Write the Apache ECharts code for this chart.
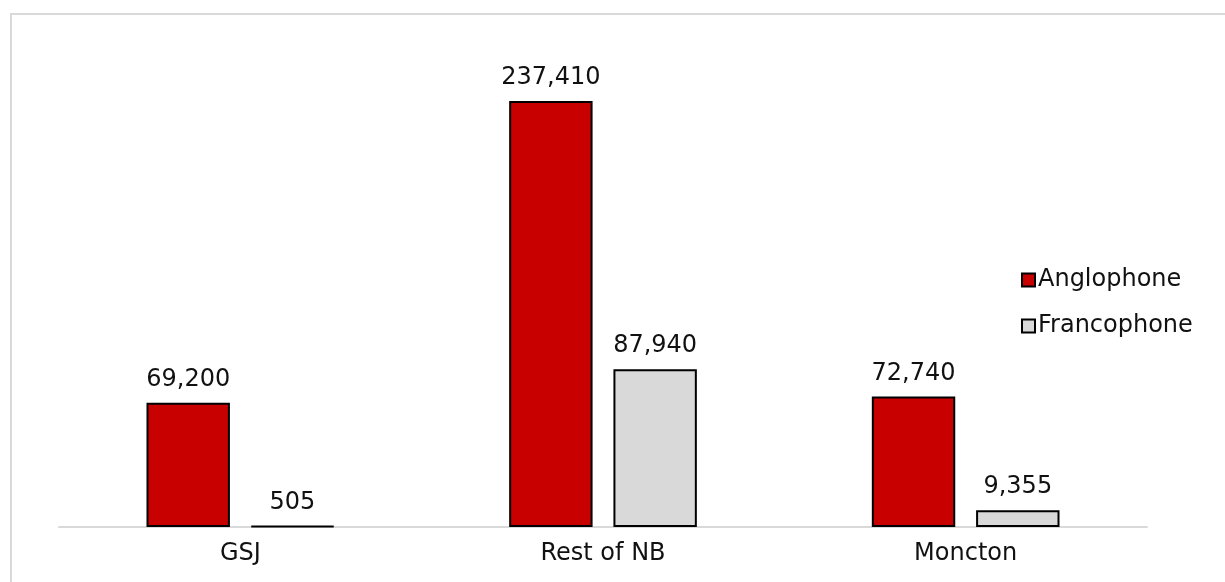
<!DOCTYPE html>
<html>
<head>
<meta charset="utf-8">
<script src="https://cdn.jsdelivr.net/npm/echarts@6/dist/echarts.min.js"></script>
<style>
    html, body{
        margin: 0;
        padding: 0;
        background-color: #fff;
    }
    .chart-frame{
        position: absolute;
        left: 10px;
        top: 13px;
        width: 1300px;
        height: 700px;
        border-top: 2px solid #d9d9d9;
        border-left: 2px solid #d9d9d9;
    }
    #myChart{
        position: absolute;
        left: 0;
        top: 0;
        width: 1225px;
        height: 582px;
    }
</style>
</head>
<body>
<div class="chart-frame"></div>
<div id="myChart"></div>
<script>
// 数据
var categories = ['GSJ', 'Rest of NB', 'Moncton'];
var anglophone = [69200, 237410, 72740];
var francophone = [505, 87940, 9355];

var font = '"DejaVu Sans", sans-serif';

function fmt(p) {
    return p.value.toLocaleString('en-US');
}

var myChart = echarts.init(document.getElementById('myChart'));
myChart.setOption({
    animation: false,
    textStyle: { fontFamily: font },
    legend: {
        orient: 'vertical',
        left: 1016,
        top: 263,
        itemWidth: 13,
        itemHeight: 13,
        itemGap: 22,
        icon: 'rect',
        textStyle: { fontSize: 24, color: '#111', fontFamily: font, padding: [0, 0, 0, -2] },
        data: ['Anglophone', 'Francophone']
    },
    grid: {
        left: 59,
        right: 78,
        top: 78.4,
        bottom: 55
    },
    xAxis: {
        type: 'category',
        data: categories,
        axisLine: { lineStyle: { color: '#d9d9d9', width: 2 } },
        axisTick: { show: false },
        axisLabel: { fontSize: 24, color: '#111', margin: 15, fontFamily: font }
    },
    yAxis: {
        type: 'value',
        min: 0,
        max: 250000,
        show: false,
        splitLine: { show: false }
    },
    series: [
        {
            name: 'Anglophone',
            type: 'bar',
            data: anglophone,
            barWidth: '23%',
            barGap: '25%',
            itemStyle: { color: '#c80000', borderColor: '#000', borderWidth: 2 },
            label: {
                show: true,
                position: 'top',
                distance: 11,
                fontSize: 24,
                color: '#111',
                fontFamily: font,
                formatter: fmt
            }
        },
        {
            name: 'Francophone',
            type: 'bar',
            data: francophone,
            barWidth: '23%',
            itemStyle: { color: '#d9d9d9', borderColor: '#000', borderWidth: 2 },
            label: {
                show: true,
                position: 'top',
                distance: 11,
                fontSize: 24,
                color: '#111',
                fontFamily: font,
                formatter: fmt
            }
        }
    ]
});
</script>
</body>
</html>
